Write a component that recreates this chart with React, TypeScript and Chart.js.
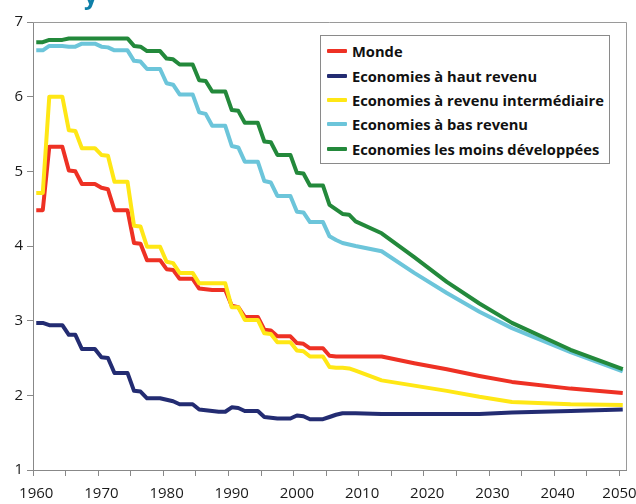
import React, { useEffect, useRef } from 'react';
import { Chart, registerables } from 'chart.js';

Chart.register(...registerables);

// ---- Data ----
const histYears = [
  1960, 1961, 1962, 1963, 1964, 1965, 1966, 1967, 1968, 1969,
  1970, 1971, 1972, 1973, 1974, 1975, 1976, 1977, 1978, 1979,
  1980, 1981, 1982, 1983, 1984, 1985, 1986, 1987, 1988, 1989,
  1990, 1991, 1992, 1993, 1994, 1995, 1996, 1997, 1998, 1999,
  2000, 2001, 2002, 2003, 2004, 2005,
];
const projYears = [2006, 2007, 2008, 2009, 2013, 2018, 2023, 2028, 2033, 2042, 2050];

const mondeHist = [
  4.48, 4.48, 5.33, 5.33, 5.33, 5.01, 5.0, 4.83, 4.83, 4.83,
  4.78, 4.76, 4.48, 4.48, 4.48, 4.04, 4.03, 3.81, 3.81, 3.81,
  3.69, 3.68, 3.56, 3.56, 3.56, 3.43, 3.42, 3.41, 3.41, 3.41,
  3.2, 3.18, 3.05, 3.05, 3.05, 2.88, 2.87, 2.79, 2.79, 2.79,
  2.7, 2.69, 2.63, 2.63, 2.63, 2.53,
];
const mondeProj = [2.52, 2.52, 2.52, 2.52, 2.52, 2.43, 2.35, 2.26, 2.18, 2.09, 2.03];

const hautHist = [
  2.97, 2.97, 2.94, 2.94, 2.94, 2.81, 2.81, 2.62, 2.62, 2.62,
  2.51, 2.5, 2.3, 2.3, 2.3, 2.06, 2.05, 1.96, 1.96, 1.96,
  1.94, 1.92, 1.88, 1.88, 1.88, 1.81, 1.8, 1.79, 1.78, 1.78,
  1.84, 1.83, 1.79, 1.79, 1.79, 1.71, 1.7, 1.69, 1.69, 1.69,
  1.73, 1.72, 1.68, 1.68, 1.68, 1.71,
];
const hautProj = [1.74, 1.76, 1.76, 1.76, 1.75, 1.75, 1.75, 1.75, 1.77, 1.79, 1.81];

const interHist = [
  4.71, 4.71, 6.0, 6.0, 6.0, 5.55, 5.54, 5.31, 5.31, 5.31,
  5.22, 5.21, 4.86, 4.86, 4.86, 4.27, 4.26, 3.99, 3.99, 3.99,
  3.79, 3.77, 3.64, 3.64, 3.64, 3.5, 3.5, 3.5, 3.5, 3.5,
  3.18, 3.18, 3.01, 3.01, 3.01, 2.83, 2.82, 2.71, 2.71, 2.71,
  2.6, 2.59, 2.52, 2.52, 2.52, 2.38,
];
const interProj = [2.37, 2.37, 2.36, 2.33, 2.2, 2.13, 2.06, 1.98, 1.91, 1.88, 1.87];

const basHist = [
  6.62, 6.62, 6.68, 6.68, 6.68, 6.67, 6.67, 6.71, 6.71, 6.71,
  6.67, 6.66, 6.62, 6.62, 6.62, 6.48, 6.47, 6.37, 6.37, 6.37,
  6.18, 6.16, 6.03, 6.03, 6.03, 5.79, 5.77, 5.61, 5.61, 5.61,
  5.34, 5.32, 5.13, 5.13, 5.13, 4.87, 4.85, 4.67, 4.67, 4.67,
  4.46, 4.45, 4.32, 4.32, 4.32, 4.13,
];
const basProj = [4.08, 4.04, 4.02, 4.0, 3.93, 3.64, 3.37, 3.12, 2.9, 2.58, 2.32];

const pmaHist = [
  6.73, 6.73, 6.76, 6.76, 6.76, 6.78, 6.78, 6.78, 6.78, 6.78,
  6.78, 6.78, 6.78, 6.78, 6.78, 6.68, 6.67, 6.61, 6.61, 6.61,
  6.51, 6.5, 6.43, 6.43, 6.43, 6.22, 6.21, 6.07, 6.07, 6.07,
  5.82, 5.81, 5.65, 5.65, 5.65, 5.4, 5.39, 5.22, 5.22, 5.22,
  4.98, 4.97, 4.81, 4.81, 4.81, 4.55,
];
const pmaProj = [4.49, 4.43, 4.42, 4.33, 4.17, 3.85, 3.52, 3.23, 2.97, 2.61, 2.35];

const seriesNames = [
  'Monde',
  'Economies à haut revenu',
  'Economies à revenu intermédiaire',
  'Economies à bas revenu',
  'Economies les moins développées',
];
const seriesColors = ['#EE3124', '#232C72', '#FFE715', '#6CC5DA', '#23893B'];

const xLabelYears = [1960, 1970, 1980, 1990, 2000, 2010, 2020, 2030, 2040, 2050];
const tickMarkYears = [
  1960, 1965, 1970, 1975, 1980, 1985, 1990, 1995, 2000, 2005,
  2010, 2015, 2020, 2025, 2030, 2035, 2040, 2045, 2050,
];
const yMin = 1;
const yMax = 7;
const xMin = 1960;
const xMax = 2050;

const toPoints = (hist: number[], proj: number[]) =>
  histYears
    .map((yr, i) => ({ x: yr, y: hist[i] }))
    .concat(projYears.map((yr, i) => ({ x: yr, y: proj[i] })));

const allSeries = [
  toPoints(mondeHist, mondeProj),
  toPoints(hautHist, hautProj),
  toPoints(interHist, interProj),
  toPoints(basHist, basProj),
  toPoints(pmaHist, pmaProj),
];

const FONT = "'Open Sans', 'Noto Sans', sans-serif";
const AXIS_GREY = '#888888';

const framePlugin = {
  id: 'frame',
  beforeDatasetsDraw(chart: any) {
    const { ctx, chartArea } = chart;
    ctx.save();
    ctx.strokeStyle = '#9a9a9a';
    ctx.lineWidth = 1;
    ctx.beginPath();
    ctx.moveTo(chartArea.left, Math.round(chartArea.top) + 0.5);
    ctx.lineTo(Math.round(chartArea.right) + 0.5, Math.round(chartArea.top) + 0.5);
    ctx.lineTo(Math.round(chartArea.right) + 0.5, chartArea.bottom);
    ctx.stroke();
    ctx.restore();
  },
};

export default function App() {
  const canvasRef = useRef<HTMLCanvasElement | null>(null);

  useEffect(() => {
    if (!canvasRef.current) return;
    const chart = new Chart(canvasRef.current, {
      type: 'line',
      data: {
        datasets: allSeries.map((pts, i) => ({
          label: seriesNames[i],
          data: pts,
          borderColor: seriesColors[i],
          backgroundColor: seriesColors[i],
          borderWidth: 4,
          pointRadius: 0,
          tension: 0,
          fill: false,
          borderJoinStyle: 'round' as const,
          borderCapStyle: 'butt' as const,
          order: seriesNames.length - 1 - i,
          xAxisID: 'x',
          yAxisID: 'y',
        })),
      },
      options: {
        responsive: false,
        animation: false,
        devicePixelRatio: 1,
        layout: { padding: { top: 22, right: 10, bottom: 0, left: 0 } },
        plugins: {
          legend: { display: false },
          tooltip: { enabled: false },
          title: { display: false },
        },
        scales: {
          x: {
            type: 'linear',
            position: 'bottom',
            min: xMin - 0.5,
            max: xMax + 0.5,
            weight: 0,
            afterBuildTicks: (scale: any) => {
              scale.ticks = tickMarkYears.map((yr) => ({ value: yr - 0.5 }));
            },
            afterFit: (scale: any) => {
              scale.height = 6;
              scale.paddingLeft = 0;
              scale.paddingRight = 0;
            },
            ticks: { display: false },
            grid: {
              display: true,
              drawOnChartArea: false,
              drawTicks: true,
              tickLength: 6,
              color: AXIS_GREY,
              lineWidth: 1,
            },
            border: { display: true, color: AXIS_GREY, width: 1 },
          },
          xl: {
            type: 'linear',
            position: 'bottom',
            min: xMin - 0.5,
            max: xMax + 0.5,
            weight: 1,
            afterBuildTicks: (scale: any) => {
              scale.ticks = xLabelYears.map((yr) => ({
                value: Math.min(Math.max(yr, xMin - 0.5), xMax - 0.5),
              }));
            },
            afterFit: (scale: any) => {
              scale.height = 28;
              scale.paddingLeft = 0;
              scale.paddingRight = 0;
            },
            ticks: {
              autoSkip: false,
              maxRotation: 0,
              padding: 9,
              color: '#1a1a1a',
              font: { family: FONT, size: 15 },
              callback: (_v: any, idx: number) => String(xLabelYears[idx]),
            },
            grid: { display: false, drawTicks: false },
            border: { display: false },
          },
          y: {
            type: 'linear',
            position: 'left',
            min: yMin,
            max: yMax,
            afterFit: (scale: any) => {
              scale.width = 33;
              scale.paddingTop = 0;
              scale.paddingBottom = 0;
            },
            ticks: {
              stepSize: 1,
              padding: 4,
              color: '#1a1a1a',
              font: { family: FONT, size: 15 },
              callback: (v: any) => String(v),
            },
            grid: {
              display: true,
              drawOnChartArea: false,
              drawTicks: true,
              tickLength: 6,
              color: AXIS_GREY,
              lineWidth: 1,
            },
            border: { display: true, color: AXIS_GREY, width: 1 },
          },
        },
      } as any,
      plugins: [framePlugin],
    });
    return () => chart.destroy();
  }, []);

  return (
    <div
      style={{
        position: 'fixed',
        left: 0,
        top: 0,
        width: 636,
        height: 504,
        background: '#ffffff',
        overflow: 'hidden',
      }}
    >
      <canvas ref={canvasRef} width={636} height={504} style={{ display: 'block' }} />
      <div
        style={{
          position: 'absolute',
          left: 84,
          top: 0,
          height: 10,
          width: 30,
          overflow: 'hidden',
        }}
      >
        <span
          style={{
            position: 'absolute',
            left: 0,
            top: -17,
            fontFamily: FONT,
            fontWeight: 700,
            fontSize: 24,
            lineHeight: '24px',
            color: '#0E7FA8',
          }}
        >
          y
        </span>
      </div>
      <div
        style={{
          position: 'absolute',
          left: 320,
          top: 35,
          width: 290,
          height: 129,
          boxSizing: 'border-box',
          border: '1px solid #8a8a8a',
          background: '#ffffff',
          paddingTop: 3,
        }}
      >
        {seriesNames.map((name, i) => (
          <div
            key={name}
            style={{
              display: 'flex',
              alignItems: 'center',
              height: 24.4,
              paddingLeft: 6,
            }}
          >
            <span
              style={{
                display: 'inline-block',
                width: 20,
                height: 4,
                background: seriesColors[i],
                marginRight: 5,
                borderRadius: 1,
                flexShrink: 0,
              }}
            />
            <span
              style={{
                fontFamily: FONT,
                fontWeight: 700,
                fontSize: 14.7,
                color: '#111111',
                whiteSpace: 'nowrap',
              }}
            >
              {name}
            </span>
          </div>
        ))}
      </div>
    </div>
  );
}
